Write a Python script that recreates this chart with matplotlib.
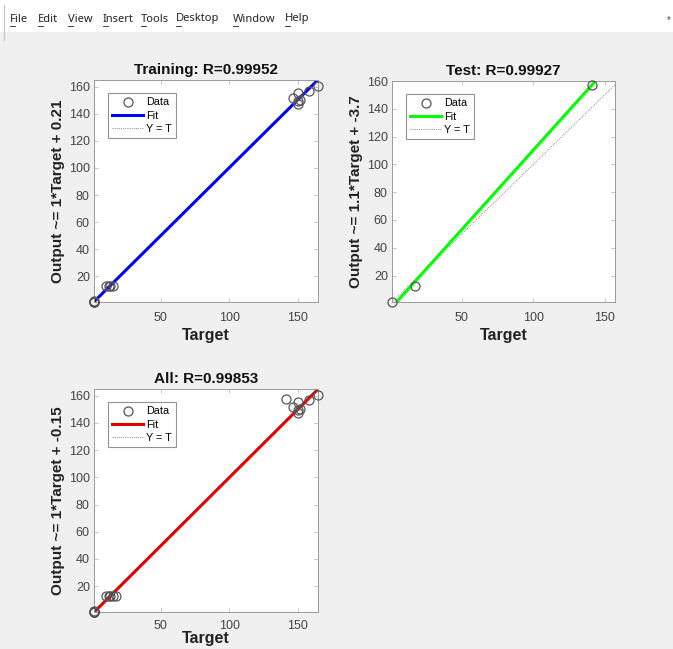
import matplotlib
matplotlib.use("Agg")
import matplotlib.pyplot as plt
import numpy as np

plt.rcParams['font.family'] = ['Liberation Sans', 'DejaVu Sans']

# ---- data ----
train_target = [1, 1, 1, 1, 10, 12, 13, 15, 147, 150, 150.7, 150.7, 152, 158.5, 165]
train_output = [1, 1.5, 1, 1, 12.5, 12.8, 12.5, 12.6, 151.5, 149.7, 155.6, 147.5, 150.5, 157.2, 160.5]
test_target = [1, 17, 141.5]
test_output = [1, 12.8, 157.3]

panel_titles = ["Training: R=0.99952", "Test: R=0.99927", "All: R=0.99853"]
ylabels = ["Output ~= 1*Target + 0.21", "Output ~= 1.1*Target + -3.7", "Output ~= 1*Target + -0.15"]
fit_slopes = [1.0, 1.14, 1.0]
fit_intercepts = [0.21, -3.7, -0.15]
fit_colors = ["#0000ff", "#00ff00", "#e00000"]
xticks = [50, 100, 150]
yticks = [20, 40, 60, 80, 100, 120, 140, 160]
menu_items = ["File", "Edit", "View", "Insert", "Tools", "Desktop", "Window", "Help"]
menu_x = [10, 38, 68, 103, 141, 176, 233, 285]

W, H = 673, 649
fig = plt.figure(figsize=(W / 100, H / 100), dpi=100, facecolor="#f0f0f0")

# menu bar
fig.patches.append(plt.Rectangle((0, 1 - 32 / H), 1, 32 / H, transform=fig.transFigure,
                                 facecolor="white", edgecolor="none", zorder=0))
fig.lines.append(plt.Line2D([4 / W, 4 / W], [1 - 40 / H, 1 - 5 / H], transform=fig.transFigure,
                            color="#c8c8c8", lw=1))
for name, mx in zip(menu_items, menu_x):
    fig.text(mx / W, 1 - 19 / H, name, fontsize=8.0, color="#222222",
             family=["Noto Sans", "DejaVu Sans"], va="center", ha="left")
    fig.lines.append(plt.Line2D([mx / W, (mx + 5) / W], [1 - 26 / H, 1 - 26 / H],
                                transform=fig.transFigure, color="#222222", lw=0.6))
fig.text(667 / W, 1 - 20 / H, "*", fontsize=7, color="#444444", va="center")

all_target = train_target + test_target
all_output = train_output + test_output
datasets = [(train_target, train_output), (test_target, test_output), (all_target, all_output)]

rects = [
    (94, 80, 318, 302),
    (392, 81, 615, 302),
    (94, 389, 318, 612),
]

for i, ((t, o), (x0, y0, x1, y1)) in enumerate(zip(datasets, rects)):
    ax = fig.add_axes([x0 / W, 1 - y1 / H, (x1 - x0) / W, (y1 - y0) / H])
    ax.set_facecolor("white")
    lo = min(min(t), min(o))
    hi = max(max(t), max(o))
    lim = np.array([lo, hi])
    ax.plot(t, o, linestyle="none", marker="o", markersize=6.5, markerfacecolor="none",
            markeredgecolor="#555555", markeredgewidth=0.9, label="Data", zorder=3,
            clip_on=False)
    ax.plot(lim, fit_slopes[i] * lim + fit_intercepts[i], color=fit_colors[i], lw=2.2,
            label="Fit", zorder=2)
    ax.plot(lim, lim, color="#888888", lw=0.7, linestyle=(0, (1, 1.2)), label="Y = T", zorder=1)
    ax.set_xlim(lim)
    ax.set_ylim(lim)
    ax.set_xticks(xticks)
    ax.set_yticks(yticks)
    ax.tick_params(direction="in", length=3, width=0.6, colors="#bbbbbb",
                   labelcolor="#444444", labelsize=9, top=True, right=True, pad=3)
    bottom_panel = (i == 2)
    ax.tick_params(axis="x", pad=6 if bottom_panel else 7)
    for s in ax.spines.values():
        s.set_color("#999999")
        s.set_linewidth(0.7)
    ax.set_title(panel_titles[i], fontsize=11, fontweight="bold", color="#111111", pad=4)
    ax.set_xlabel("Target", fontsize=11.5, fontweight="bold", color="#222222",
                  labelpad=-1 if bottom_panel else 3)
    ax.set_ylabel(ylabels[i], fontsize=11, fontweight="bold", color="#222222", labelpad=3)
    leg = ax.legend(loc="upper left", bbox_to_anchor=(0.063, 0.941), borderaxespad=0,
                    fontsize=7.8, frameon=True, fancybox=False, handlelength=2.8,
                    labelspacing=0.3, borderpad=0.4, handletextpad=0.3)
    leg.get_frame().set_edgecolor("#777777")
    leg.get_frame().set_linewidth(0.8)

fig.savefig("out.png", dpi=100, facecolor=fig.get_facecolor())
